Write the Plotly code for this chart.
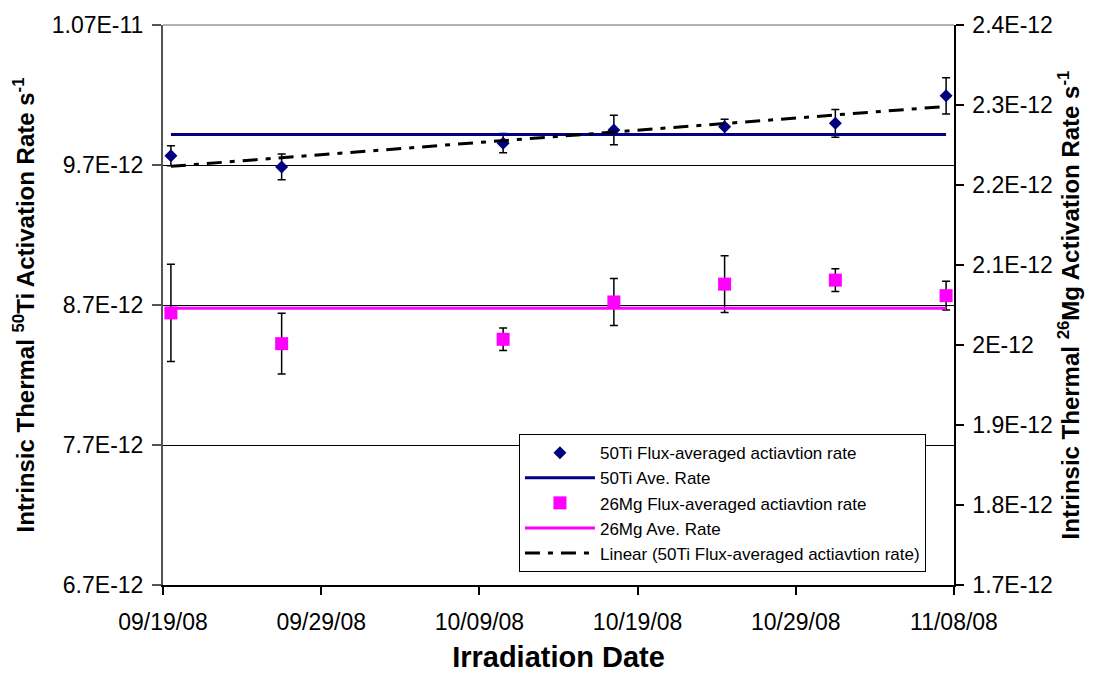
import numpy as np
import pandas as pd
import plotly.graph_objects as go

# Irradiation dates (mid-day) and measured rates
dates = ["2008-09-19 12:00", "2008-09-26 12:00", "2008-10-10 12:00", "2008-10-17 12:00",
         "2008-10-24 12:00", "2008-10-31 12:00", "2008-11-07 12:00"]
ti_rate = [9.766e-12, 9.686e-12, 9.856e-12, 9.950e-12, 9.974e-12, 9.998e-12, 10.194e-12]
ti_err = [0.071e-12, 0.092e-12, 0.069e-12, 0.106e-12, 0.052e-12, 0.099e-12, 0.130e-12]
mg_rate = [2.0401e-12, 2.0017e-12, 2.0071e-12, 2.0538e-12, 2.0761e-12, 2.0811e-12, 2.0617e-12]
mg_err = [0.0608e-12, 0.0380e-12, 0.0140e-12, 0.0294e-12, 0.0356e-12, 0.0143e-12, 0.0180e-12]

# Axis ticks
x_ticks = ["2008-09-19", "2008-09-29", "2008-10-09", "2008-10-19", "2008-10-29", "2008-11-08"]
x_ticktext = ["09/19/08", "09/29/08", "10/09/08", "10/19/08", "10/29/08", "11/08/08"]
left_ticks = [6.7e-12, 7.7e-12, 8.7e-12, 9.7e-12, 1.07e-11]
left_ticktext = ["6.7E-12", "7.7E-12", "8.7E-12", "9.7E-12", "1.07E-11"]
right_ticks = [1.7e-12, 1.8e-12, 1.9e-12, 2.0e-12, 2.1e-12, 2.2e-12, 2.3e-12, 2.4e-12]
right_ticktext = ["1.7E-12", "1.8E-12", "1.9E-12", "2E-12", "2.1E-12", "2.2E-12", "2.3E-12", "2.4E-12"]

x = pd.to_datetime(dates)
ti_avg = float(np.mean(ti_rate))
mg_avg = float(np.mean(mg_rate))

# Linear trend of the Ti rates against time
days = (x - x[0]).total_seconds().to_numpy() / 86400.0
slope, intercept = np.polyfit(days, ti_rate, 1)
ti_trend = slope * days + intercept

NAVY = "#000080"
MAGENTA = "#FF00FF"
FONT = "Liberation Sans, Arial, sans-serif"

fig = go.Figure()

fig.add_trace(go.Scatter(
    x=x, y=ti_rate, mode="markers", name="50Ti Flux-averaged actiavtion rate",
    marker=dict(symbol="diamond", size=10, color=NAVY),
    error_y=dict(type="data", array=ti_err, color="black", thickness=1.5, width=4),
))
fig.add_trace(go.Scatter(
    x=x, y=[ti_avg] * len(x), mode="lines", name="50Ti Ave. Rate",
    line=dict(color=NAVY, width=3),
))
fig.add_trace(go.Scatter(
    x=x, y=mg_rate, mode="markers", name="26Mg Flux-averaged actiavtion rate",
    marker=dict(symbol="square", size=13, color=MAGENTA),
    error_y=dict(type="data", array=mg_err, color="black", thickness=1.5, width=4),
    yaxis="y2",
))
fig.add_trace(go.Scatter(
    x=x, y=[mg_avg] * len(x), mode="lines", name="26Mg Ave. Rate",
    line=dict(color=MAGENTA, width=3), yaxis="y2",
))
fig.add_trace(go.Scatter(
    x=x, y=ti_trend, mode="lines", name="Linear (50Ti Flux-averaged actiavtion rate)",
    line=dict(color="black", width=3, dash="15px,8px,5px,8px"),
))

for i, tr in enumerate(fig.data):
    tr.legendrank = i

fig.update_layout(
    width=1120, height=681,
    margin=dict(l=163, r=166, t=21, b=96),
    paper_bgcolor="white", plot_bgcolor="white",
    font=dict(family=FONT, color="black", size=23),
    showlegend=True,
    legend=dict(
        x=0.45, xanchor="left", y=0.023, yanchor="bottom",
        bgcolor="white", bordercolor="black", borderwidth=1,
        font=dict(size=17, family=FONT, color="black"),
        itemwidth=70, tracegroupgap=0,
    ),
    xaxis=dict(
        type="date", range=["2008-09-19", "2008-11-08"],
        tickvals=x_ticks, ticktext=x_ticktext,
        showline=True, linecolor="black", linewidth=1.5,
        ticks="outside", ticklen=8, tickcolor="black", tickwidth=1.5,
        showgrid=False, zeroline=False,
        tickfont=dict(size=23), ticklabelstandoff=8,
        title=dict(text="Irradiation Date", font=dict(size=29, weight="bold"), standoff=12),
    ),
    yaxis=dict(
        range=[6.7e-12, 1.07e-11], tickvals=left_ticks, ticktext=left_ticktext,
        showline=True, linecolor="#555555", linewidth=2,
        ticks="outside", ticklen=9, tickcolor="#555555", tickwidth=1.5,
        showgrid=True, gridcolor="black", gridwidth=1,
        zeroline=False, tickfont=dict(size=23), ticklabelstandoff=4,
        title=dict(text="Intrinsic Thermal <sup>50</sup>Ti Activation Rate s<sup>-1</sup>",
                   font=dict(size=24, weight="bold"), standoff=10),
    ),
    yaxis2=dict(
        range=[1.7e-12, 2.4e-12], tickvals=right_ticks, ticktext=right_ticktext,
        overlaying="y", side="right",
        showline=True, linecolor="black", linewidth=1.5,
        ticks="outside", ticklen=8, tickcolor="black", tickwidth=1.5,
        showgrid=False, zeroline=False, tickfont=dict(size=23), ticklabelstandoff=4,
        title=dict(text="Intrinsic Thermal <sup>26</sup>Mg Activation Rate s<sup>-1</sup>",
                   font=dict(size=24, weight="bold"), standoff=10),
    ),
    shapes=[dict(type="line", xref="paper", yref="paper", x0=0, x1=1, y0=1, y1=1,
                 line=dict(color="#999999", width=1.5), layer="above")],
)

fig.write_html("out.html")
